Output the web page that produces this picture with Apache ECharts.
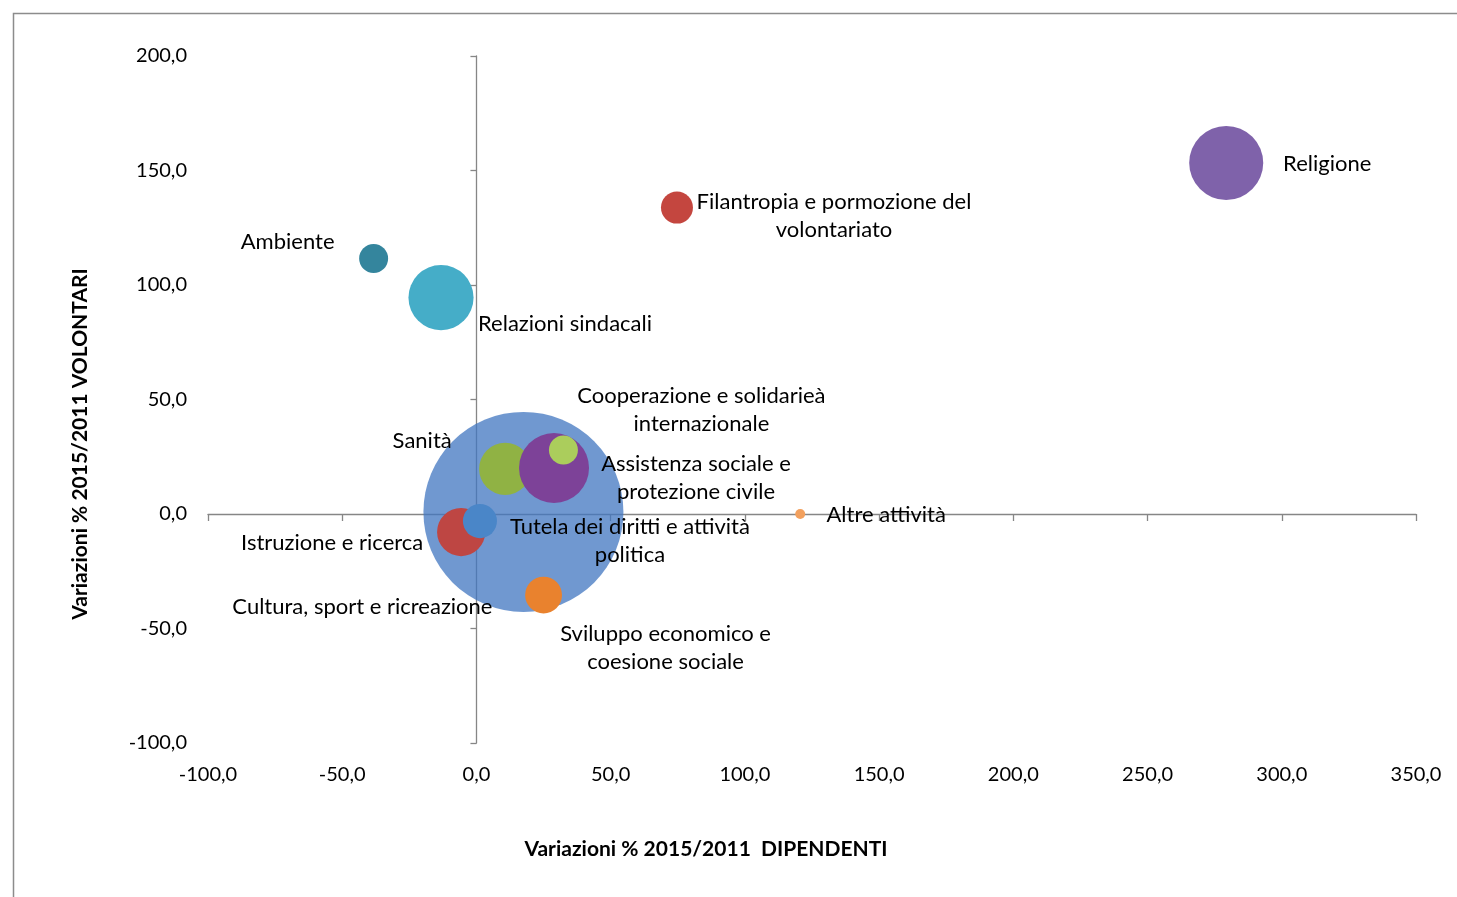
<!DOCTYPE html>
<html>
<head>
<meta charset="utf-8">
<script src="https://cdn.jsdelivr.net/npm/echarts@6/dist/echarts.min.js"></script>
<style>html,body{margin:0;padding:0;background:#fff;}#c{width:1457px;height:897px;}</style>
</head>
<body>
<div id="c"></div>
<script>
// ---- data ----
const sectors = [
  'Cultura, sport e ricreazione',
  'Istruzione e ricerca',
  'Sanità',
  'Assistenza sociale e\nprotezione civile',
  'Cooperazione e solidarieà\ninternazionale',
  'Tutela dei diritti e attività\npolitica',
  'Sviluppo economico e\ncoesione sociale',
  'Relazioni sindacali',
  'Ambiente',
  'Filantropia e pormozione del\nvolontariato',
  'Religione',
  'Altre attività'
];
const varDipendenti = [17.5, -5.7, 10.7, 28.9, 32.4, 1.3, 25.0, -13.2, -38.3, 74.7, 279.3, 120.6];
const varVolontari  = [0.9, -7.9, 19.7, 20.1, 27.9, -3.1, -35.4, 94.5, 111.6, 133.8, 153.3, 0.0];
const bubbleSize    = [10000, 580, 680, 1225, 210, 290, 340, 1060, 210, 256, 1370, 25];
const xTicks = { min: -100, max: 350, interval: 50 };
const yTicks = { min: -100, max: 200, interval: 50 };

// ---- styles (not data) ----
const colors = ['rgba(64,118,192,0.75)', '#BE4643', '#90B244', '#7D4298', '#ABCD5C', '#4A86C8',
                '#E9822E', '#45ADC8', '#34859D', '#C4463F', '#7F62AA', '#F2A05E'];
const labelOffsets = [[-161, 95], [-129, 11], [-83, -28], [142, 10], [138, -40], [150, 20],
                      [122, 53], [124, 26], [-86, -17], [157, 8], [101, 1], [86, 1]];

const FONT = 'Lato, "Open Sans", sans-serif';
const fmt = v => v.toFixed(1).replace('.', ',');

const data = sectors.map((n, i) => ({
  name: n,
  value: [varDipendenti[i], varVolontari[i], bubbleSize[i]],
  itemStyle: { color: colors[i], opacity: 1 }
}));

const chart = echarts.init(document.getElementById('c'), null, { renderer: 'canvas' });
const axisLineStyle = { color: '#868686', width: 1.3 };
chart.setOption({
  animation: false,
  backgroundColor: '#fff',
  grid: { left: 208, right: 41, top: 56, bottom: 154, containLabel: false },
  xAxis: [
    {
      type: 'value', min: xTicks.min, max: xTicks.max, interval: xTicks.interval,
      position: 'bottom',
      axisLine: { show: false, onZero: false }, axisTick: { show: false },
      splitLine: { show: false },
      axisLabel: { formatter: fmt, color: '#000', fontFamily: FONT, fontSize: 20, margin: 22 }
    },
    {
      type: 'value', min: xTicks.min, max: xTicks.max, interval: xTicks.interval,
      position: 'top',
      axisLine: { show: true, onZero: true, lineStyle: axisLineStyle },
      axisTick: { show: true, inside: true, length: 7, lineStyle: axisLineStyle },
      axisLabel: { show: false }, splitLine: { show: false }
    }
  ],
  yAxis: [
    {
      type: 'value', min: yTicks.min, max: yTicks.max, interval: yTicks.interval,
      position: 'left',
      axisLine: { show: false, onZero: false }, axisTick: { show: false },
      splitLine: { show: false },
      axisLabel: { formatter: fmt, color: '#000', fontFamily: FONT, fontSize: 20, margin: 21 }
    },
    {
      type: 'value', min: yTicks.min, max: yTicks.max, interval: yTicks.interval,
      position: 'right',
      axisLine: { show: true, onZero: true, lineStyle: axisLineStyle },
      axisTick: { show: true, inside: true, length: 6, lineStyle: axisLineStyle },
      axisLabel: { show: false }, splitLine: { show: false }
    }
  ],
  graphic: [
    { type: 'rect', left: 11, top: 11, silent: true, z: -10,
      shape: { width: 1500, height: 1000 },
      style: { fill: 'none', stroke: '#8c8c8c', lineWidth: 1.5 } },
    { type: 'text', x: 706, y: 849, silent: true,
      style: { text: 'Variazioni % 2015/2011  DIPENDENTI', fill: '#000', font: 'bold 21px ' + FONT,
               align: 'center', verticalAlign: 'middle' } },
    { type: 'text', x: 80, y: 444, rotation: Math.PI / 2, silent: true,
      style: { text: 'Variazioni % 2015/2011 VOLONTARI', fill: '#000', font: 'bold 21px ' + FONT,
               align: 'center', verticalAlign: 'middle' } }
  ],
  series: [{
    type: 'scatter',
    xAxisIndex: 0, yAxisIndex: 0,
    symbol: 'circle',
    symbolSize: v => 2 * Math.sqrt(v[2]),
    itemStyle: { opacity: 1 },
    data: data,
    label: {
      show: true, position: 'inside', formatter: p => p.name,
      color: '#000', fontFamily: FONT, fontSize: 22, lineHeight: 28, align: 'center'
    },
    labelLayout: p => ({
      dx: labelOffsets[p.dataIndex][0],
      dy: labelOffsets[p.dataIndex][1],
      hideOverlap: false
    }),
    emphasis: { disabled: true }
  }]
});
</script>
</body>
</html>
